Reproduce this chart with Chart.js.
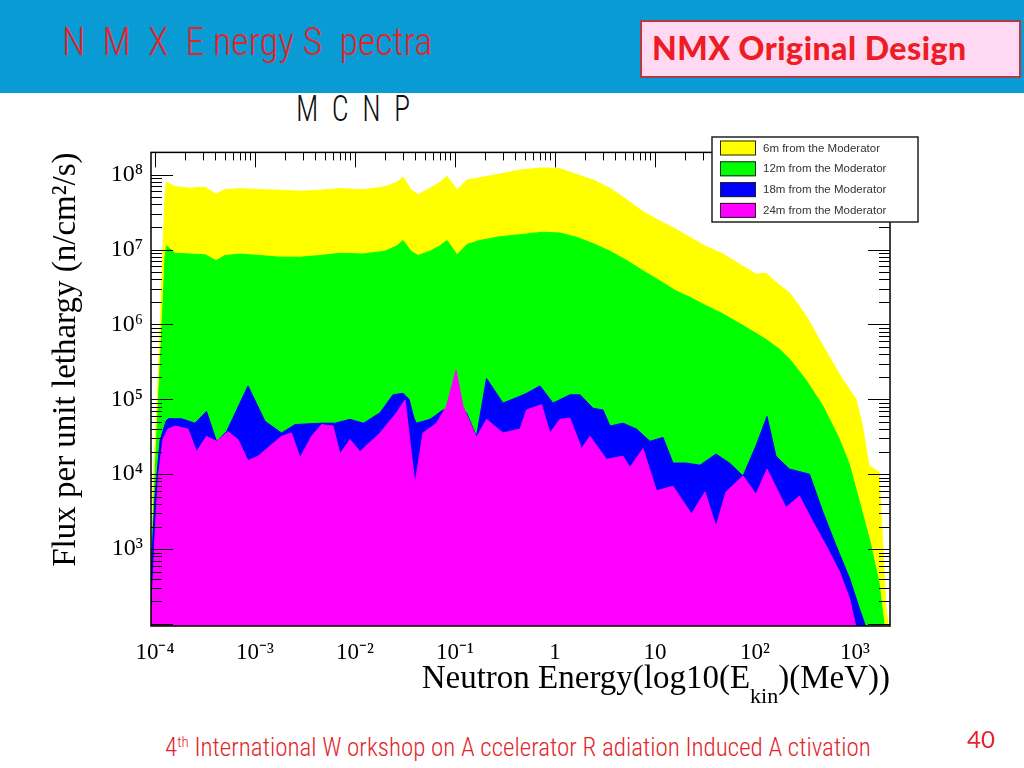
<!DOCTYPE html>
<html>
<head>
<meta charset="utf-8">
<title>NMX Energy Spectra</title>
<script src="https://cdn.jsdelivr.net/npm/chart.js@4.4.0/dist/chart.umd.min.js"></script>
<style>
  body { margin: 0; width: 1024px; height: 768px; background: #fff; position: relative; overflow: hidden; }
  #header { position: absolute; left: 0; top: 0; width: 1024px; height: 93px; background: #089bd4; }
  .thin { font-family: "Roboto Condensed", Roboto, "DejaVu Sans", sans-serif; font-weight: 300; white-space: pre; transform-origin: left top; }
  #title { position: absolute; left: 62px; top: 20px; font-size: 38px; color: #e3242b; }
  #badge { position: absolute; left: 640px; top: 20px; width: 377px; height: 54px; background: #ffd9f1; border: 2px solid #b23a44; }
  #badge span { position: absolute; left: 10px; top: 6px; font-family: Lato, "Open Sans", sans-serif; font-weight: 900; font-size: 32px; letter-spacing: 0.5px; color: #ee1c24; white-space: nowrap; }
  #sub { position: absolute; left: 296px; top: 88px; font-size: 36px; color: #111; transform: scaleX(0.83); }
  #chartBox { position: absolute; left: 0; top: 130px; width: 1024px; height: 600px; }
  #footer { position: absolute; left: 165px; top: 733px; font-size: 25px; color: #e3242b; }
  #footer sup { font-size: 15px; }
  #pageNo { position: absolute; left: 967px; top: 724px; font-family: Lato, sans-serif; font-size: 24px; color: #e3242b; }
</style>
</head>
<body>
<div id="header"></div>
<div id="title" class="thin">N  M  X  E nergy S  pectra</div>
<div id="badge"><span>NMX Original Design</span></div>
<div id="sub" class="thin">M  C  N  P</div>
<div id="chartBox"><canvas id="chart" width="1024" height="600"></canvas></div>
<div id="footer" class="thin">4<sup>th</sup> International W orkshop on A ccelerator R adiation Induced A ctivation</div>
<div id="pageNo">40</div>

<script>
// x values are log10(E/MeV), y values are flux per unit lethargy (n/cm2/s)
const energyTicks = [-4, -3, -2, -1, 0, 1, 2, 3];
const fluxTicks = [1e3, 1e4, 1e5, 1e6, 1e7, 1e8];
const seriesNames = ["6m from the Moderator", "12m from the Moderator", "18m from the Moderator", "24m from the Moderator"];
const seriesColors = ["#ffff00", "#00ff00", "#0000ff", "#ff00ff"];

const logE6m = [-4.04, -4.0, -3.965, -3.93, -3.90, -3.885, -3.80, -3.65, -3.50, -3.39, -3.30, -3.15, -2.95, -2.75, -2.55, -2.35, -2.15, -1.92, -1.70, -1.58, -1.52, -1.44, -1.37, -1.25, -1.15, -1.08, -0.98, -0.88, -0.75, -0.55, -0.35, -0.12, 0.05, 0.22, 0.38, 0.55, 0.72, 0.88, 1.05, 1.21, 1.35, 1.51, 1.68, 1.85, 2.01, 2.11, 2.25, 2.35, 2.51, 2.68, 2.84, 3.01, 3.07, 3.14, 3.24, 3.28, 3.31, 3.34];
const flux6m = [1.6e3, 2.5e4, 2.5e5, 5.0e6, 5.0e7, 7.9e7, 6.9e7, 6.6e7, 6.8e7, 5.5e7, 6.3e7, 6.5e7, 6.3e7, 6.2e7, 6.0e7, 6.2e7, 6.5e7, 6.3e7, 6.9e7, 7.9e7, 9.3e7, 6.3e7, 5.4e7, 6.6e7, 7.9e7, 9.5e7, 6.3e7, 8.5e7, 9.1e7, 1.02e8, 1.15e8, 1.23e8, 1.2e8, 1.0e8, 8.5e7, 6.6e7, 4.6e7, 3.2e7, 2.4e7, 1.86e7, 1.45e7, 1.1e7, 8.7e6, 6.3e6, 4.7e6, 4.8e6, 3.3e6, 2.6e6, 1.3e6, 5.2e5, 2.2e5, 1.0e5, 4.7e4, 1.3e4, 1.07e4, 1.0e3, 160, 80];

const logE12m = [-4.04, -4.0, -3.965, -3.93, -3.90, -3.885, -3.80, -3.65, -3.50, -3.39, -3.30, -3.15, -2.95, -2.75, -2.55, -2.35, -2.15, -1.92, -1.70, -1.58, -1.52, -1.44, -1.37, -1.25, -1.15, -1.08, -0.98, -0.88, -0.75, -0.55, -0.35, -0.12, 0.05, 0.22, 0.38, 0.55, 0.72, 0.88, 1.05, 1.21, 1.35, 1.51, 1.68, 1.85, 2.01, 2.11, 2.25, 2.35, 2.51, 2.68, 2.84, 2.94, 3.05, 3.15, 3.24, 3.29, 3.31];
const flux12m = [630, 1.0e4, 1.0e5, 1.0e6, 7.9e6, 1.12e7, 8.9e6, 8.7e6, 8.5e6, 7.1e6, 8.3e6, 8.7e6, 8.3e6, 7.9e6, 7.9e6, 8.3e6, 8.9e6, 8.7e6, 9.5e6, 1.12e7, 1.32e7, 9.5e6, 8.3e6, 9.5e6, 1.12e7, 1.32e7, 8.5e6, 1.17e7, 1.32e7, 1.48e7, 1.58e7, 1.7e7, 1.66e7, 1.45e7, 1.2e7, 9.5e6, 7.1e6, 5.2e6, 3.8e6, 2.8e6, 2.3e6, 1.78e6, 1.38e6, 1.02e6, 7.6e5, 6.3e5, 4.6e5, 3.4e5, 1.8e5, 8.1e4, 3.0e4, 1.4e4, 4.0e3, 1.26e3, 355, 100, 80];

const logE18m = [-4.04, -4.02, -4.0, -3.95, -3.89, -3.87, -3.735, -3.60, -3.485, -3.385, -3.285, -3.07, -2.90, -2.735, -2.60, -2.335, -2.20, -2.05, -1.915, -1.75, -1.62, -1.52, -1.46, -1.41, -1.385, -1.25, -1.12, -1.00, -0.885, -0.785, -0.685, -0.52, -0.35, -0.285, -0.15, -0.02, 0.15, 0.25, 0.38, 0.48, 0.55, 0.68, 0.815, 0.95, 1.08, 1.18, 1.31, 1.45, 1.61, 1.745, 1.88, 2.01, 2.12, 2.21, 2.345, 2.545, 2.68, 2.81, 2.945, 3.045, 3.11];
const flux18m = [316, 1.58e3, 5.0e3, 2.8e4, 5.1e4, 5.5e4, 5.5e4, 4.8e4, 6.9e4, 2.75e4, 3.7e4, 1.51e5, 5.1e4, 3.55e4, 4.6e4, 4.8e4, 4.8e4, 5.4e4, 4.8e4, 6.6e4, 1.15e5, 1.2e5, 1.0e5, 5.6e4, 4.8e4, 5.4e4, 7.2e4, 7.9e4, 6.6e4, 3.2e4, 1.9e5, 8.9e4, 1.1e5, 1.2e5, 1.51e5, 8.9e4, 1.15e5, 1.15e5, 7.6e4, 7.2e4, 4.4e4, 4.8e4, 4.0e4, 2.75e4, 3.1e4, 1.41e4, 1.41e4, 1.32e4, 1.86e4, 1.41e4, 9.5e3, 2.4e4, 5.9e4, 1.74e4, 1.17e4, 1.0e4, 3.1e3, 1.12e3, 410, 160, 90];

const logE24m = [-4.04, -4.005, -3.97, -3.92, -3.87, -3.80, -3.67, -3.585, -3.485, -3.385, -3.27, -3.17, -3.07, -2.97, -2.735, -2.635, -2.55, -2.435, -2.335, -2.22, -2.15, -2.05, -1.95, -1.75, -1.585, -1.50, -1.40, -1.32, -1.185, -1.085, -0.99, -0.92, -0.785, -0.685, -0.52, -0.35, -0.285, -0.135, -0.05, 0.05, 0.15, 0.265, 0.35, 0.515, 0.68, 0.75, 0.88, 1.015, 1.18, 1.365, 1.50, 1.61, 1.71, 1.88, 2.01, 2.12, 2.31, 2.445, 2.58, 2.71, 2.845, 2.945, 3.01];
const flux24m = [90, 1.12e3, 8.7e3, 2.95e4, 4.0e4, 4.4e4, 4.0e4, 2.0e4, 3.2e4, 2.75e4, 3.7e4, 2.9e4, 1.51e4, 1.74e4, 3.2e4, 3.55e4, 1.66e4, 3.2e4, 4.6e4, 4.4e4, 1.86e4, 2.9e4, 2.0e4, 3.55e4, 6.6e4, 9.8e4, 7.4e3, 3.55e4, 4.8e4, 8.1e4, 2.45e5, 8.1e4, 3.1e4, 5.4e4, 3.55e4, 4.0e4, 7.2e4, 8.5e4, 3.55e4, 5.4e4, 5.6e4, 2.2e4, 3.2e4, 1.58e4, 1.74e4, 1.23e4, 2.2e4, 6.0e3, 6.9e3, 2.95e3, 5.8e3, 2.0e3, 5.8e3, 9.5e3, 5.4e3, 1.17e4, 3.6e3, 5.1e3, 2.3e3, 1.12e3, 500, 220, 90];

const supDigits = { "-": "\u207B", "0": "\u2070", "1": "\u00B9", "2": "\u00B2", "3": "\u00B3", "4": "\u2074", "5": "\u2075", "6": "\u2076", "7": "\u2077", "8": "\u2078", "9": "\u2079" };

function powerLabel(exp) {
  if (exp === 0) return "1";
  if (exp === 1) return "10";
  return "10" + String(exp).split("").map((c) => supDigits[c]).join("");
}

function points(xs, ys) {
  return xs.map((x, i) => ({ x: x, y: ys[i] }));
}

function makeDataset(idx, xs, ys) {
  return {
    label: seriesNames[idx],
    data: points(xs, ys),
    backgroundColor: seriesColors[idx],
    borderColor: seriesColors[idx],
    borderWidth: 1,
    pointRadius: 0,
    tension: 0,
    fill: "start",
  };
}

// first dataset is drawn on top, so the nearest detector goes last
const datasets = [
  makeDataset(3, logE24m, flux24m),
  makeDataset(2, logE18m, flux18m),
  makeDataset(1, logE12m, flux12m),
  makeDataset(0, logE6m, flux6m),
];

// ROOT style frame with inward ticks on left, right and top
const frameTicks = {
  id: "frameTicks",
  afterDatasetsDraw(chart) {
    const { ctx, chartArea: a, scales } = chart;
    const xs = scales.x, ys = scales.y;
    ctx.save();
    ctx.strokeStyle = "#000";
    ctx.lineWidth = 1;
    ctx.beginPath();
    for (let n = 2; n <= 8; n++) {
      for (let k = 1; k <= 9; k++) {
        const v = k * Math.pow(10, n);
        if (v < ys.min || v > ys.max) continue;
        const y = Math.round(ys.getPixelForValue(v)) + 0.5;
        const len = k === 1 ? 22 : 11;
        ctx.moveTo(a.left, y); ctx.lineTo(a.left + len, y);
        ctx.moveTo(a.right, y); ctx.lineTo(a.right - len, y);
      }
    }
    for (let n = -5; n <= 3; n++) {
      for (let k = 1; k <= 9; k++) {
        const v = n + Math.log10(k);
        if (v < xs.min || v > xs.max) continue;
        const x = Math.round(xs.getPixelForValue(v)) + 0.5;
        const len = k === 1 ? 15 : 8;
        ctx.moveTo(x, a.top); ctx.lineTo(x, a.top + len);
      }
    }
    ctx.stroke();
    ctx.lineWidth = 1.5;
    ctx.strokeRect(a.left, a.top, a.right - a.left, a.bottom - a.top);
    ctx.restore();
  },
  afterDraw(chart) {
    const ctx = chart.ctx;
    ctx.save();
    // x axis title with subscript
    const part1 = "Neutron Energy(log10(E";
    const sub = "kin";
    const part2 = ")(MeV))";
    ctx.fillStyle = "#000";
    ctx.textBaseline = "alphabetic";
    ctx.font = '33px "Liberation Serif", serif';
    const w1 = ctx.measureText(part1).width;
    const w3 = ctx.measureText(part2).width;
    ctx.font = '22px "Liberation Serif", serif';
    const w2 = ctx.measureText(sub).width;
    let x = chart.chartArea.right - (w1 + w2 + w3);
    const base = 558;
    ctx.font = '33px "Liberation Serif", serif';
    ctx.fillText(part1, x, base);
    x += w1;
    ctx.font = '22px "Liberation Serif", serif';
    ctx.fillText(sub, x, base + 15);
    x += w2;
    ctx.font = '33px "Liberation Serif", serif';
    ctx.fillText(part2, x, base);

    // legend box
    const lx = 712, ly = 7, lw = 206, lh = 85;
    ctx.fillStyle = "#fff";
    ctx.fillRect(lx, ly, lw, lh);
    ctx.strokeStyle = "#222";
    ctx.lineWidth = 1.5;
    ctx.strokeRect(lx, ly, lw, lh);
    ctx.font = '11.5px "Liberation Sans", Arial, sans-serif';
    ctx.textBaseline = "middle";
    seriesNames.forEach((name, i) => {
      const cy = ly + 11 + i * 20.8;
      ctx.fillStyle = seriesColors[i];
      ctx.fillRect(lx + 8, cy - 7.5, 36, 15);
      ctx.lineWidth = 1;
      ctx.strokeStyle = "#222";
      ctx.strokeRect(lx + 8.5, cy - 7, 35, 14);
      ctx.fillStyle = "#333";
      ctx.fillText(name, lx + 51, cy + 0.5);
    });
    ctx.restore();
  },
};

new Chart(document.getElementById("chart"), {
  type: "line",
  data: { datasets: datasets },
  options: {
    responsive: false,
    animation: false,
    devicePixelRatio: 1,
    layout: { padding: { left: 0, right: 134, top: 19, bottom: 0 } },
    plugins: { legend: { display: false }, tooltip: { enabled: false } },
    scales: {
      x: {
        type: "linear",
        min: -4.04,
        max: 3.35,
        grid: { display: false, drawTicks: false },
        border: { display: false },
        afterBuildTicks(scale) {
          scale.ticks = energyTicks.map((v) => ({ value: v }));
        },
        afterFit(scale) {
          scale.height = 104;
        },
        ticks: {
          autoSkip: false,
          maxRotation: 0,
          padding: 13,
          color: "#000",
          font: { family: "'Liberation Serif', serif", size: 23 },
          callback: (v) => powerLabel(v),
        },
      },
      y: {
        type: "logarithmic",
        min: 94,
        max: 1.98e8,
        grid: { display: false, drawTicks: false },
        border: { display: false },
        afterBuildTicks(scale) {
          scale.ticks = fluxTicks.map((v) => ({ value: v }));
        },
        afterFit(scale) {
          scale.width = 151;
        },
        ticks: {
          padding: 8,
          color: "#000",
          font: { family: "'Liberation Serif', serif", size: 24 },
          callback: (v) => powerLabel(Math.round(Math.log10(v))),
        },
        title: {
          display: true,
          text: "Flux per unit lethargy (n/cm\u00B2/s)",
          align: "end",
          color: "#000",
          padding: { top: 47, bottom: 0 },
          font: { family: "'Liberation Serif', serif", size: 33 },
        },
      },
    },
  },
  plugins: [frameTicks],
});
</script>
</body>
</html>
